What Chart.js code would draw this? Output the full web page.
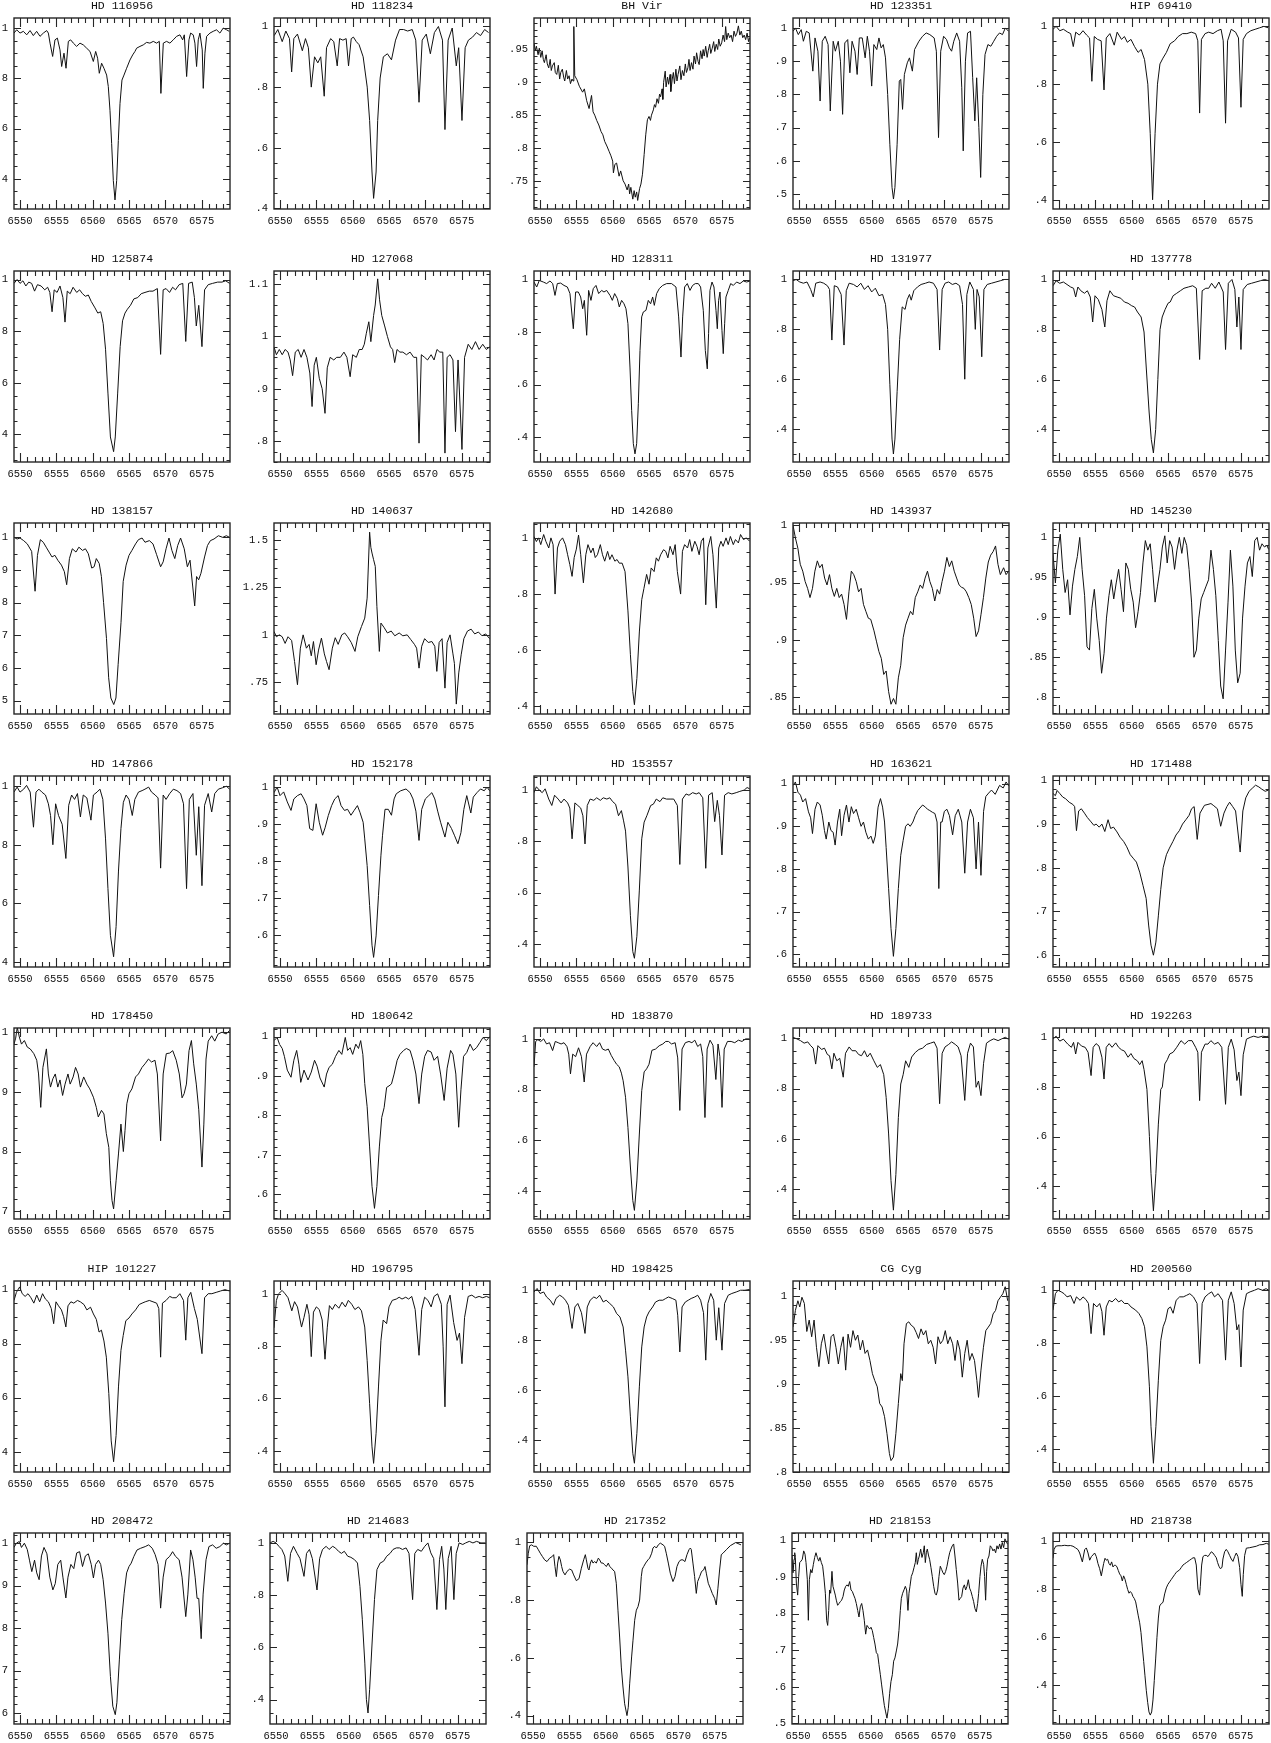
<!DOCTYPE html>
<html>
<head>
<meta charset="utf-8">
<title>H-alpha spectra</title>
<script src="https://cdn.jsdelivr.net/npm/chart.js@4.4.1/dist/chart.umd.min.js"></script>
<style>
  html, body { margin: 0; padding: 0; background: #fff; }
  #page { position: relative; width: 1271px; height: 1743px; overflow: hidden; background: #fff; }
  .cell { position: absolute; }
</style>
</head>
<body>
<div id="page"></div>
<script>
// ─────────────────────────────────────────────
//  Panel titles (reading order, 5 per row)
// ─────────────────────────────────────────────
const STARS = [
  "HD 116956", "HD 118234", "BH Vir", "HD 123351", "HIP 69410",
  "HD 125874", "HD 127068", "HD 128311", "HD 131977", "HD 137778",
  "HD 138157", "HD 140637", "HD 142680", "HD 143937", "HD 145230",
  "HD 147866", "HD 152178", "HD 153557", "HD 163621", "HD 171488",
  "HD 178450", "HD 180642", "HD 183870", "HD 189733", "HD 192263",
  "HIP 101227", "HD 196795", "HD 198425", "CG Cyg", "HD 200560",
  "HD 208472", "HD 214683", "HD 217352", "HD 218153", "HD 218738",
];

// wavelength axis (Angstrom)
const X_RANGE = [6549.17, 6578.9];
const X_TICKS = [6550, 6555, 6560, 6565, 6570, 6575];

// flux axis per panel: limits, labelled step, minor step
const Y_MIN   = [0.28, 0.398, 0.707, 0.455, 0.368,  0.293, 0.76, 0.305, 0.268, 0.27,
                 0.459, 0.584, 0.373, 0.8355, 0.779, 0.382, 0.514, 0.31, 0.57, 0.573,
                 0.687, 0.537, 0.29, 0.283, 0.267,  0.325, 0.319, 0.272, 0.80, 0.313,
                 0.574, 0.307, 0.371, 0.498, 0.24];
const Y_MAX   = [1.04, 1.028, 0.998, 1.03, 1.029,  1.033, 1.125, 1.033, 1.034, 1.034,
                 1.044, 1.588, 1.053, 1.002, 1.018, 1.035, 1.03, 1.055, 1.018, 1.01,
                 1.007, 1.022, 1.043, 1.04, 1.038,  1.032, 1.049, 1.037, 1.0175, 1.035,
                 1.024, 1.038, 1.032, 1.021, 1.033];
const Y_STEP  = [0.2, 0.2, 0.05, 0.1, 0.2,  0.2, 0.1, 0.2, 0.2, 0.2,
                 0.1, 0.25, 0.2, 0.05, 0.05,  0.2, 0.1, 0.2, 0.1, 0.1,
                 0.1, 0.1, 0.2, 0.2, 0.2,  0.2, 0.2, 0.2, 0.05, 0.2,
                 0.1, 0.2, 0.2, 0.1, 0.2];
const Y_MINOR = [0.05, 0.05, 0.01, 0.05, 0.05,  0.05, 0.02, 0.05, 0.05, 0.05,
                 0.05, 0.05, 0.05, 0.01, 0.01,  0.05, 0.02, 0.05, 0.02, 0.02,
                 0.02, 0.02, 0.05, 0.05, 0.05,  0.05, 0.05, 0.05, 0.01, 0.05,
                 0.02, 0.05, 0.05, 0.02, 0.05];

// ─────────────────────────────────────────────
//  Spectra: [wavelength, normalised flux]
// ─────────────────────────────────────────────
const S_HD116956 = [[6549.17,.98],[6549.54,.993],[6550.0,.98],[6550.46,.987],[6550.92,.973],[6551.38,.99],[6551.83,.97],[6552.29,.987],[6552.75,.967],[6553.21,.98],[6553.67,.99],[6553.9,.98],[6554.13,.94],[6554.49,.887],[6554.81,.953],[6555.14,.96],[6555.5,.913],[6555.73,.847],[6556.05,.9],[6556.33,.84],[6556.65,.947],[6556.97,.953],[6557.34,.94],[6557.79,.927],[6558.25,.94],[6558.71,.933],[6559.17,.92],[6559.63,.907],[6560.09,.867],[6560.41,.907],[6560.68,.88],[6560.91,.82],[6561.23,.86],[6561.55,.84],[6561.92,.813],[6562.15,.767],[6562.38,.673],[6562.61,.54],[6562.84,.393],[6563.07,.316],[6563.3,.393],[6563.53,.553],[6563.76,.70],[6564.03,.793],[6564.31,.813],[6564.67,.84],[6565.13,.873],[6565.5,.893],[6565.82,.907],[6566.05,.92],[6566.51,.927],[6566.96,.933],[6567.42,.943],[6567.88,.94],[6568.34,.947],[6568.8,.94],[6569.17,.947],[6569.39,.74],[6569.72,.94],[6570.17,.947],[6570.63,.94],[6571.09,.953],[6571.55,.967],[6572.01,.973],[6572.38,.953],[6572.61,.973],[6572.93,.807],[6573.25,.953],[6573.48,.98],[6573.84,.973],[6574.07,.94],[6574.3,.847],[6574.53,.953],[6574.76,.98],[6575.08,.913],[6575.22,.76],[6575.45,.9],[6575.68,.967],[6576.14,.98],[6576.59,.987],[6577.05,.993],[6577.51,.98],[6577.97,1.0],[6578.43,.993],[6578.79,.987]];

const S_HD118234 = [[6549.2,.97],[6549.7,.99],[6550.3,.95],[6550.8,.985],[6551.3,.96],[6551.6,.85],[6551.9,.96],[6552.4,.975],[6553.07,.92],[6553.5,.96],[6553.9,.93],[6554.3,.80],[6554.75,.90],[6555.2,.88],[6555.6,.90],[6556.08,.77],[6556.4,.93],[6556.97,.96],[6557.4,.95],[6557.87,.87],[6558.2,.96],[6558.65,.955],[6559.1,.96],[6559.43,.87],[6559.8,.96],[6560.1,.965],[6560.5,.95],[6560.88,.94],[6561.44,.90],[6562.0,.80],[6562.33,.69],[6562.66,.52],[6562.88,.433],[6563.22,.52],[6563.44,.69],[6563.78,.83],[6564.22,.90],[6564.78,.91],[6565.34,.89],[6565.9,.955],[6566.45,.99],[6567.0,.99],[6567.57,.985],[6568.2,.99],[6568.68,.955],[6569.13,.75],[6569.57,.955],[6570.13,.975],[6570.69,.91],[6571.25,.98],[6571.8,1.0],[6572.36,.955],[6572.7,.66],[6573.14,.955],[6573.7,.995],[6574.26,.87],[6574.59,.93],[6575.04,.69],[6575.48,.93],[6575.93,.955],[6576.5,.965],[6577.04,.98],[6577.6,.97],[6578.16,.99],[6578.7,.98]];

const S_BHVir = [[6549.17,.96],[6549.35,.948],[6549.5,.955],[6549.73,.942],[6549.9,.952],[6550.1,.938],[6550.29,.948],[6550.45,.935],[6550.6,.93],[6550.84,.942],[6551.0,.928],[6551.2,.922],[6551.4,.935],[6551.55,.918],[6551.7,.925],[6551.96,.93],[6552.1,.915],[6552.3,.912],[6552.52,.926],[6552.7,.905],[6552.85,.915],[6553.07,.92],[6553.25,.908],[6553.4,.902],[6553.63,.918],[6553.8,.905],[6554.0,.91],[6554.19,.898],[6554.4,.905],[6554.55,.902],[6554.65,.985],[6554.78,.91],[6555.08,.904],[6555.41,.894],[6555.86,.885],[6556.1,.89],[6556.42,.872],[6556.75,.86],[6557.09,.88],[6557.3,.855],[6557.53,.85],[6557.8,.842],[6558.09,.835],[6558.4,.825],[6558.65,.82],[6558.9,.81],[6559.2,.803],[6559.5,.795],[6559.76,.788],[6560.0,.78],[6560.1,.762],[6560.3,.775],[6560.54,.777],[6560.88,.757],[6561.1,.765],[6561.44,.75],[6561.7,.745],[6561.99,.736],[6562.2,.745],[6562.33,.73],[6562.5,.74],[6562.77,.722],[6562.95,.735],[6563.11,.725],[6563.3,.733],[6563.44,.72],[6563.7,.738],[6563.89,.745],[6564.1,.76],[6564.33,.79],[6564.55,.82],[6564.78,.843],[6565.0,.848],[6565.2,.842],[6565.34,.85],[6565.6,.858],[6565.75,.866],[6565.9,.862],[6566.1,.875],[6566.3,.868],[6566.45,.882],[6566.6,.878],[6566.8,.89],[6566.9,.874],[6567.01,.9],[6567.23,.917],[6567.35,.893],[6567.55,.908],[6567.7,.897],[6567.9,.912],[6568.0,.886],[6568.2,.905],[6568.35,.915],[6568.5,.898],[6568.7,.92],[6568.85,.902],[6569.0,.912],[6569.24,.925],[6569.4,.904],[6569.6,.918],[6569.8,.91],[6570.0,.928],[6570.15,.915],[6570.35,.922],[6570.5,.935],[6570.65,.918],[6570.85,.93],[6571.05,.92],[6571.2,.94],[6571.4,.928],[6571.55,.945],[6571.75,.932],[6571.9,.927],[6572.1,.948],[6572.3,.936],[6572.45,.95],[6572.6,.94],[6572.8,.955],[6573.0,.938],[6573.15,.948],[6573.35,.958],[6573.5,.944],[6573.7,.952],[6573.9,.962],[6574.05,.947],[6574.25,.958],[6574.45,.95],[6574.6,.966],[6574.8,.955],[6575.0,.96],[6575.2,.972],[6575.4,.962],[6575.55,.985],[6575.7,.965],[6575.9,.975],[6576.1,.968],[6576.3,.972],[6576.5,.962],[6576.7,.978],[6576.9,.97],[6577.1,.975],[6577.3,.986],[6577.5,.972],[6577.7,.978],[6577.9,.968],[6578.1,.972],[6578.3,.965],[6578.5,.975],[6578.7,.962],[6578.85,.968]];

const S_HD123351 = [[6549.17,.99],[6549.5,1.0],[6549.9,.98],[6550.3,.995],[6550.6,.96],[6551.0,.99],[6551.4,.985],[6551.9,.87],[6552.2,.97],[6552.6,.93],[6552.9,.78],[6553.2,.96],[6553.6,.975],[6554.0,.95],[6554.3,.75],[6554.7,.96],[6555.0,.93],[6555.4,.96],[6555.7,.90],[6556.0,.74],[6556.3,.955],[6556.7,.965],[6557.0,.865],[6557.3,.96],[6557.7,.93],[6558.0,.86],[6558.3,.97],[6558.7,.97],[6559.1,.91],[6559.4,.975],[6559.7,.93],[6560.0,.825],[6560.3,.95],[6560.7,.935],[6561.0,.97],[6561.3,.94],[6561.6,.95],[6561.9,.91],[6562.2,.80],[6562.5,.65],[6562.8,.52],[6563.0,.485],[6563.2,.52],[6563.5,.65],[6563.8,.84],[6564.0,.845],[6564.25,.755],[6564.5,.86],[6564.9,.895],[6565.2,.91],[6565.6,.87],[6565.9,.935],[6566.5,.96],[6567.0,.975],[6567.5,.985],[6568.0,.98],[6568.6,.97],[6568.9,.93],[6569.2,.67],[6569.5,.93],[6569.9,.975],[6570.3,.965],[6570.7,.94],[6571.0,.93],[6571.3,.96],[6571.7,.985],[6572.1,.96],[6572.4,.82],[6572.6,.63],[6572.9,.90],[6573.2,.985],[6573.6,.99],[6573.9,.85],[6574.2,.72],[6574.45,.85],[6574.75,.70],[6575.0,.55],[6575.3,.80],[6575.6,.92],[6576.0,.95],[6576.4,.945],[6576.8,.96],[6577.2,.975],[6577.6,.985],[6578.0,.98],[6578.4,1.0],[6578.85,.99]];

const S_HIP69410 = [[6549.17,.99],[6549.6,1.0],[6550.1,.985],[6550.6,.99],[6551.2,.98],[6551.6,.975],[6551.96,.93],[6552.3,.98],[6552.8,.97],[6553.3,.985],[6553.8,.97],[6554.2,.96],[6554.52,.81],[6554.85,.965],[6555.3,.955],[6555.8,.95],[6556.19,.78],[6556.5,.96],[6557.0,.975],[6557.6,.935],[6558.0,.98],[6558.6,.955],[6559.0,.965],[6559.4,.945],[6559.9,.955],[6560.4,.93],[6560.88,.91],[6561.3,.92],[6561.77,.885],[6562.22,.80],[6562.55,.63],[6562.88,.40],[6563.22,.63],[6563.55,.80],[6563.89,.87],[6564.3,.89],[6564.78,.91],[6565.3,.94],[6565.9,.95],[6566.4,.965],[6567.0,.975],[6567.6,.975],[6568.2,.98],[6568.8,.975],[6569.1,.95],[6569.35,.70],[6569.6,.955],[6570.1,.975],[6570.6,.98],[6571.2,.975],[6571.8,.985],[6572.3,.99],[6572.6,.95],[6572.92,.665],[6573.2,.95],[6573.7,.99],[6574.3,.98],[6574.7,.96],[6575.04,.72],[6575.35,.955],[6575.8,.975],[6576.4,.985],[6577.0,.99],[6577.6,.995],[6578.2,1.0],[6578.8,.995]];

const S_HD125874 = [[6549.17,.985],[6549.6,1.0],[6550.0,.985],[6550.4,.995],[6550.8,.975],[6551.2,.99],[6551.6,.985],[6552.0,.955],[6552.4,.98],[6552.9,.975],[6553.4,.96],[6553.8,.97],[6554.1,.95],[6554.41,.875],[6554.7,.96],[6555.1,.95],[6555.5,.975],[6555.9,.93],[6556.19,.835],[6556.5,.955],[6556.9,.945],[6557.3,.97],[6557.8,.95],[6558.2,.96],[6558.6,.945],[6559.0,.935],[6559.4,.94],[6559.8,.915],[6560.32,.89],[6560.7,.87],[6561.1,.875],[6561.44,.83],[6561.77,.73],[6562.1,.56],[6562.44,.39],[6562.88,.333],[6563.11,.39],[6563.44,.56],[6563.78,.74],[6564.11,.84],[6564.45,.87],[6564.78,.885],[6565.2,.9],[6565.67,.925],[6566.2,.93],[6566.68,.945],[6567.2,.95],[6567.79,.955],[6568.3,.955],[6568.9,.965],[6569.35,.71],[6569.7,.96],[6570.1,.965],[6570.58,.95],[6571.0,.97],[6571.4,.96],[6571.9,.98],[6572.4,.985],[6572.81,.76],[6573.2,.985],[6573.7,.99],[6574.0,.93],[6574.26,.82],[6574.6,.9],[6575.04,.74],[6575.4,.96],[6575.9,.98],[6576.5,.985],[6577.2,.99],[6577.8,.99],[6578.3,.995],[6578.85,.985]];

const S_HD127068 = [[6549.17,.98],[6549.5,.965],[6549.9,.975],[6550.3,.965],[6550.7,.975],[6551.1,.97],[6551.4,.955],[6551.73,.925],[6552.1,.97],[6552.5,.975],[6552.9,.96],[6553.3,.975],[6553.7,.96],[6554.1,.93],[6554.41,.866],[6554.7,.945],[6555.0,.96],[6555.4,.92],[6555.8,.90],[6556.19,.853],[6556.5,.94],[6556.9,.96],[6557.4,.955],[6557.8,.96],[6558.3,.96],[6558.8,.97],[6559.2,.96],[6559.65,.923],[6560.0,.965],[6560.5,.96],[6560.9,.975],[6561.3,.975],[6561.6,.985],[6561.88,1.006],[6562.22,1.028],[6562.5,.99],[6562.88,1.04],[6563.1,1.06],[6563.44,1.11],[6563.7,1.07],[6564.0,1.04],[6564.4,1.02],[6564.78,1.0],[6565.2,.98],[6565.5,.975],[6565.78,.95],[6566.1,.975],[6566.5,.97],[6566.9,.97],[6567.4,.965],[6567.9,.97],[6568.4,.96],[6568.8,.96],[6569.13,.796],[6569.45,.965],[6569.9,.96],[6570.3,.955],[6570.8,.965],[6571.2,.955],[6571.6,.975],[6572.0,.97],[6572.4,.97],[6572.7,.777],[6573.0,.96],[6573.4,.965],[6573.8,.955],[6574.15,.818],[6574.5,.955],[6575.04,.784],[6575.4,.96],[6575.9,.985],[6576.4,.975],[6576.9,.99],[6577.4,.975],[6577.9,.985],[6578.4,.975],[6578.85,.98]];

const S_HD128311 = [[6549.17,.991],[6549.54,.972],[6549.9,.997],[6550.45,.991],[6550.91,.985],[6551.37,.995],[6551.74,.985],[6552.06,.94],[6552.38,.985],[6552.84,.987],[6553.3,.978],[6553.76,.972],[6554.12,.947],[6554.58,.813],[6554.9,.953],[6555.27,.953],[6555.59,.934],[6555.87,.889],[6556.1,.921],[6556.42,.788],[6556.69,.959],[6557.01,.921],[6557.33,.966],[6557.7,.978],[6558.07,.947],[6558.48,.959],[6558.8,.953],[6559.17,.959],[6559.63,.94],[6559.95,.921],[6560.27,.947],[6560.64,.928],[6560.91,.896],[6561.23,.921],[6561.56,.908],[6561.83,.889],[6562.1,.832],[6562.38,.667],[6562.61,.502],[6562.84,.375],[6563.07,.336],[6563.3,.375],[6563.53,.527],[6563.76,.73],[6563.99,.858],[6564.22,.877],[6564.58,.883],[6564.9,.921],[6565.22,.908],[6565.5,.934],[6565.73,.902],[6566.05,.947],[6566.42,.966],[6566.88,.978],[6567.43,.985],[6568.11,.985],[6568.71,.972],[6569.08,.858],[6569.4,.705],[6569.63,.858],[6569.9,.972],[6570.27,.985],[6570.64,.959],[6571.0,.978],[6571.37,.985],[6571.78,.985],[6572.1,.972],[6572.47,.883],[6572.75,.73],[6573.02,.66],[6573.2,.794],[6573.39,.959],[6573.67,.991],[6573.94,.972],[6574.22,.883],[6574.4,.813],[6574.58,.921],[6574.77,.953],[6575.04,.807],[6575.22,.718],[6575.41,.832],[6575.59,.934],[6575.91,.959],[6576.24,.985],[6576.6,.978],[6577.06,.991],[6577.52,.985],[6577.98,.995],[6578.44,.991],[6578.9,.995]];

const S_HD131977 = [[6549.17,.995],[6549.6,1.0],[6550.1,.99],[6550.6,.985],[6551.1,.99],[6551.6,.96],[6551.96,.93],[6552.3,.985],[6552.9,.99],[6553.4,.985],[6553.9,.975],[6554.2,.96],[6554.52,.757],[6554.85,.975],[6555.3,.97],[6555.8,.94],[6556.19,.737],[6556.5,.955],[6556.9,.985],[6557.5,.98],[6558.0,.97],[6558.5,.985],[6559.0,.96],[6559.5,.975],[6560.0,.95],[6560.5,.965],[6561.0,.935],[6561.5,.94],[6561.9,.90],[6562.2,.80],[6562.5,.58],[6562.8,.36],[6562.99,.30],[6563.2,.36],[6563.5,.55],[6563.85,.76],[6564.2,.89],[6564.6,.88],[6564.9,.92],[6565.2,.94],[6565.44,.917],[6565.8,.955],[6566.3,.97],[6566.8,.98],[6567.4,.985],[6567.9,.99],[6568.5,.985],[6569.0,.96],[6569.35,.717],[6569.7,.96],[6570.1,.985],[6570.6,.99],[6571.1,.98],[6571.6,.985],[6572.1,.975],[6572.5,.90],[6572.81,.60],[6573.1,.94],[6573.5,.99],[6574.0,.96],[6574.26,.80],[6574.5,.96],[6574.8,.93],[6575.15,.69],[6575.45,.96],[6575.9,.98],[6576.5,.985],[6577.1,.99],[6577.7,.995],[6578.3,1.0],[6578.85,1.0]];

const S_HD137778 = [[6549.17,.975],[6549.6,.995],[6550.1,.985],[6550.6,.99],[6551.1,.98],[6551.6,.97],[6552.0,.965],[6552.29,.93],[6552.6,.97],[6553.0,.955],[6553.5,.945],[6553.9,.955],[6554.3,.93],[6554.63,.83],[6554.95,.935],[6555.4,.92],[6555.9,.88],[6556.3,.81],[6556.6,.915],[6557.0,.955],[6557.5,.935],[6558.0,.93],[6558.5,.925],[6559.0,.91],[6559.5,.905],[6560.0,.895],[6560.4,.89],[6560.8,.87],[6561.3,.85],[6561.7,.79],[6562.0,.65],[6562.4,.47],[6562.7,.36],[6562.99,.306],[6563.3,.40],[6563.6,.60],[6563.9,.80],[6564.2,.85],[6564.6,.88],[6565.0,.905],[6565.3,.91],[6565.7,.935],[6566.2,.945],[6566.7,.955],[6567.2,.965],[6567.8,.97],[6568.4,.975],[6568.9,.965],[6569.35,.68],[6569.7,.955],[6570.2,.965],[6570.6,.965],[6571.0,.985],[6571.5,.965],[6572.0,.99],[6572.6,.95],[6572.92,.72],[6573.3,.985],[6573.8,1.0],[6574.2,.96],[6574.48,.81],[6574.75,.93],[6575.04,.72],[6575.35,.96],[6575.9,.98],[6576.5,.985],[6577.1,.99],[6577.7,.995],[6578.3,1.0],[6578.85,.995]];

const S_HD138157 = [[6549.17,1.0],[6549.6,.995],[6550.0,.998],[6550.5,.99],[6551.0,.98],[6551.6,.957],[6552.07,.835],[6552.4,.945],[6552.8,.993],[6553.2,.985],[6553.6,.97],[6554.0,.955],[6554.4,.94],[6554.8,.945],[6555.2,.93],[6555.7,.915],[6556.1,.895],[6556.42,.855],[6556.8,.935],[6557.2,.965],[6557.7,.955],[6558.1,.97],[6558.6,.96],[6559.0,.965],[6559.4,.95],[6559.87,.906],[6560.2,.91],[6560.5,.935],[6560.9,.92],[6561.2,.88],[6561.5,.80],[6561.9,.69],[6562.2,.57],[6562.5,.508],[6562.9,.488],[6563.2,.508],[6563.5,.61],[6563.9,.74],[6564.2,.865],[6564.6,.915],[6565.0,.945],[6565.4,.96],[6565.9,.98],[6566.3,.993],[6566.8,.998],[6567.2,.985],[6567.8,.99],[6568.3,.98],[6568.8,.947],[6569.35,.91],[6569.7,.925],[6570.1,.965],[6570.5,.998],[6570.9,.96],[6571.3,.935],[6571.7,.975],[6572.1,.998],[6572.6,.965],[6573.03,.91],[6573.4,.93],[6574.04,.79],[6574.3,.88],[6574.59,.87],[6574.9,.89],[6575.4,.94],[6575.8,.975],[6576.2,.99],[6576.7,.995],[6577.3,1.005],[6577.9,1.0],[6578.4,1.005],[6578.85,1.0]];

const S_HD140637 = [[6549.17,1.018],[6549.5,.99],[6549.9,1.0],[6550.3,.99],[6550.7,.955],[6551.1,.99],[6551.6,.97],[6552.0,.86],[6552.4,.738],[6552.8,.93],[6553.18,1.0],[6553.63,.93],[6554.0,.95],[6554.3,.89],[6554.6,.965],[6554.97,.843],[6555.3,.92],[6555.7,.983],[6556.1,.90],[6556.4,.86],[6556.75,.817],[6557.2,.93],[6557.6,.985],[6558.0,.95],[6558.5,1.0],[6558.9,1.01],[6559.3,.99],[6559.8,.96],[6560.32,.913],[6560.7,.99],[6561.21,1.044],[6561.66,1.088],[6561.99,1.193],[6562.33,1.54],[6562.5,1.46],[6562.66,1.43],[6562.88,1.395],[6563.11,1.36],[6563.33,1.15],[6563.67,.913],[6563.89,1.062],[6564.3,1.04],[6564.78,1.01],[6565.3,1.02],[6565.8,.995],[6566.4,1.01],[6566.9,.995],[6567.5,1.0],[6568.0,.975],[6568.5,.95],[6568.8,.93],[6569.13,.825],[6569.5,.94],[6569.9,.98],[6570.4,.96],[6570.9,.965],[6571.3,.94],[6571.58,.808],[6571.9,.96],[6572.3,.98],[6572.7,.72],[6573.0,.96],[6573.4,1.0],[6573.8,.90],[6574.0,.85],[6574.26,.636],[6574.6,.80],[6574.93,.895],[6575.3,.98],[6575.8,1.02],[6576.3,1.03],[6576.8,1.005],[6577.3,1.015],[6577.8,.995],[6578.3,1.005],[6578.85,.98]];

const S_HD142680 = [[6549.17,1.005],[6549.5,.987],[6549.8,1.0],[6550.1,.976],[6550.5,1.012],[6550.8,.988],[6551.2,.964],[6551.5,1.0],[6551.8,.976],[6552.07,.80],[6552.4,.964],[6552.7,.988],[6553.1,1.0],[6553.5,.976],[6553.8,.94],[6554.1,.905],[6554.41,.863],[6554.7,.93],[6555.0,.96],[6555.3,1.01],[6555.6,.94],[6555.97,.84],[6556.3,.94],[6556.6,.976],[6557.0,.947],[6557.3,.964],[6557.6,.93],[6557.9,.94],[6558.3,.976],[6558.6,.94],[6558.9,.917],[6559.3,.952],[6559.6,.923],[6559.9,.94],[6560.3,.917],[6560.6,.923],[6560.9,.91],[6561.3,.91],[6561.7,.88],[6562.1,.74],[6562.44,.584],[6562.77,.453],[6562.99,.406],[6563.33,.50],[6563.67,.665],[6564.0,.78],[6564.3,.82],[6564.67,.87],[6565.0,.835],[6565.3,.893],[6565.7,.88],[6566.0,.929],[6566.3,.917],[6566.6,.94],[6567.0,.958],[6567.3,.952],[6567.6,.929],[6567.9,.97],[6568.3,.94],[6568.6,.976],[6568.9,.88],[6569.35,.80],[6569.6,.952],[6569.9,.976],[6570.3,.964],[6570.6,.994],[6570.9,.952],[6571.3,.988],[6571.6,.97],[6571.9,.94],[6572.2,.988],[6572.5,1.0],[6572.81,.762],[6573.1,.964],[6573.5,1.005],[6573.8,.94],[6574.26,.75],[6574.6,.964],[6574.9,.988],[6575.2,.97],[6575.6,1.0],[6575.9,.976],[6576.2,1.005],[6576.6,.976],[6576.9,.994],[6577.3,.982],[6577.6,1.012],[6578.0,.994],[6578.4,1.0],[6578.85,.988]];

const S_HD143937 = [[6549.17,1.0],[6549.5,.989],[6549.84,.98],[6550.17,.966],[6550.51,.96],[6550.84,.951],[6551.18,.945],[6551.51,.937],[6551.85,.945],[6552.18,.96],[6552.52,.969],[6552.85,.963],[6553.18,.966],[6553.52,.954],[6553.85,.948],[6554.19,.957],[6554.52,.945],[6554.86,.938],[6555.19,.945],[6555.53,.937],[6555.86,.94],[6556.2,.931],[6556.53,.918],[6556.87,.942],[6557.2,.96],[6557.53,.957],[6557.87,.951],[6558.2,.942],[6558.54,.945],[6558.87,.931],[6559.2,.925],[6559.54,.919],[6559.87,.918],[6560.32,.908],[6560.65,.899],[6560.99,.89],[6561.32,.884],[6561.66,.87],[6561.99,.873],[6562.33,.855],[6562.66,.844],[6563.0,.849],[6563.33,.844],[6563.67,.867],[6564.0,.878],[6564.33,.902],[6564.67,.913],[6565.0,.919],[6565.34,.925],[6565.67,.922],[6566.0,.937],[6566.34,.942],[6566.68,.948],[6567.01,.945],[6567.35,.954],[6567.68,.96],[6568.01,.951],[6568.35,.945],[6568.68,.934],[6569.02,.944],[6569.35,.94],[6569.69,.951],[6570.02,.96],[6570.35,.972],[6570.69,.964],[6571.02,.969],[6571.36,.96],[6571.69,.954],[6572.03,.948],[6572.36,.946],[6572.7,.945],[6573.03,.942],[6573.37,.937],[6573.7,.931],[6574.04,.919],[6574.37,.903],[6574.71,.908],[6575.04,.922],[6575.38,.937],[6575.71,.954],[6576.05,.968],[6576.38,.974],[6576.71,.977],[6577.05,.982],[6577.38,.966],[6577.71,.957],[6578.16,.963],[6578.5,.957],[6578.85,.96]];

const S_HD145230 = [[6549.17,.98],[6549.5,.943],[6549.84,.984],[6550.17,1.004],[6550.51,.96],[6550.84,.931],[6551.18,.947],[6551.51,.903],[6551.85,.939],[6552.18,.96],[6552.52,.976],[6552.85,1.0],[6553.18,.96],[6553.52,.927],[6553.85,.863],[6554.19,.859],[6554.52,.911],[6554.86,.935],[6555.19,.899],[6555.53,.871],[6555.86,.83],[6556.2,.855],[6556.53,.899],[6556.87,.927],[6557.2,.947],[6557.53,.923],[6557.87,.943],[6558.2,.96],[6558.54,.935],[6558.87,.907],[6559.2,.968],[6559.54,.96],[6559.87,.935],[6560.21,.919],[6560.54,.887],[6560.88,.907],[6561.21,.931],[6561.55,.968],[6561.88,.996],[6562.22,.984],[6562.55,.992],[6562.88,.96],[6563.22,.919],[6563.55,.939],[6563.89,.96],[6564.22,.988],[6564.56,1.002],[6564.89,.968],[6565.23,.996],[6565.56,.988],[6565.9,.96],[6566.23,.984],[6566.56,1.0],[6566.9,.98],[6567.23,1.0],[6567.57,.99],[6567.9,.96],[6568.24,.919],[6568.57,.85],[6568.91,.859],[6569.24,.899],[6569.57,.923],[6569.91,.931],[6570.24,.939],[6570.58,.947],[6570.91,.984],[6571.25,.96],[6571.58,.927],[6571.92,.871],[6572.25,.814],[6572.59,.798],[6572.92,.859],[6573.26,.919],[6573.59,.984],[6573.93,.939],[6574.26,.859],[6574.59,.818],[6574.93,.83],[6575.26,.899],[6575.6,.939],[6575.93,.968],[6576.27,.976],[6576.6,.951],[6576.94,.996],[6577.27,1.0],[6577.6,.984],[6577.94,.992],[6578.27,.988],[6578.61,.99],[6578.85,.985]];

const S_HD147866 = [[6549.17,.98],[6549.6,.997],[6550.0,.98],[6550.5,.99],[6550.9,1.003],[6551.4,.98],[6551.85,.86],[6552.2,.98],[6552.6,.99],[6553.0,.98],[6553.5,.97],[6553.9,.94],[6554.2,.90],[6554.52,.80],[6554.9,.94],[6555.3,.90],[6555.8,.87],[6556.31,.753],[6556.7,.935],[6557.1,.97],[6557.5,.955],[6557.9,.975],[6558.31,.895],[6558.7,.97],[6559.2,.96],[6559.76,.884],[6560.1,.97],[6560.6,.98],[6561.0,.99],[6561.4,.955],[6561.77,.82],[6562.1,.65],[6562.44,.49],[6562.88,.417],[6563.22,.52],[6563.55,.71],[6563.89,.855],[6564.22,.945],[6564.6,.97],[6565.0,.955],[6565.45,.90],[6565.8,.955],[6566.3,.98],[6566.8,.985],[6567.2,.99],[6567.7,.997],[6568.1,.98],[6568.6,.97],[6569.0,.96],[6569.35,.72],[6569.7,.97],[6570.1,.955],[6570.6,.975],[6571.1,.99],[6571.6,.985],[6572.1,.975],[6572.5,.94],[6572.92,.65],[6573.3,.955],[6573.8,.975],[6574.26,.764],[6574.6,.93],[6575.04,.66],[6575.4,.935],[6575.9,.975],[6576.38,.912],[6576.8,.975],[6577.3,.99],[6577.9,.995],[6578.4,1.0],[6578.85,.99]];

const S_HD152178 = [[6549.17,.985],[6549.6,1.0],[6550.0,.977],[6550.5,.987],[6551.0,.96],[6551.51,.937],[6551.9,.968],[6552.4,.977],[6552.9,.982],[6553.3,.968],[6553.7,.95],[6554.08,.888],[6554.52,.883],[6554.97,.955],[6555.4,.905],[6555.86,.87],[6556.2,.89],[6556.64,.923],[6557.1,.95],[6557.53,.968],[6558.0,.977],[6558.4,.95],[6558.87,.937],[6559.3,.94],[6559.76,.924],[6560.2,.937],[6560.65,.95],[6561.0,.932],[6561.44,.905],[6561.66,.86],[6561.99,.788],[6562.33,.68],[6562.66,.573],[6562.88,.54],[6563.22,.598],[6563.55,.707],[6563.89,.816],[6564.11,.87],[6564.45,.94],[6564.9,.94],[6565.34,.924],[6565.7,.968],[6566.0,.982],[6566.6,.99],[6567.34,.995],[6567.9,.985],[6568.3,.968],[6568.7,.935],[6569.13,.856],[6569.5,.94],[6570.0,.968],[6570.47,.977],[6570.9,.985],[6571.3,.968],[6571.7,.935],[6572.1,.905],[6572.7,.865],[6573.1,.905],[6573.6,.888],[6574.0,.87],[6574.48,.847],[6574.9,.877],[6575.3,.94],[6575.7,.977],[6576.26,.93],[6576.6,.973],[6577.1,.985],[6577.6,.995],[6578.1,.99],[6578.5,1.0],[6578.85,.99]];

const S_HD153557 = [[6549.17,.99],[6549.5,1.013],[6549.9,1.0],[6550.3,.99],[6550.7,1.005],[6551.2,.965],[6551.62,.94],[6552.0,.98],[6552.5,.965],[6552.9,.95],[6553.3,.965],[6553.8,.95],[6554.1,.93],[6554.41,.81],[6554.8,.95],[6555.2,.94],[6555.6,.93],[6555.9,.90],[6556.19,.79],[6556.5,.94],[6556.9,.965],[6557.4,.96],[6557.8,.97],[6558.3,.96],[6558.7,.97],[6559.2,.965],[6559.6,.97],[6560.0,.955],[6560.4,.945],[6560.8,.90],[6561.2,.92],[6561.5,.88],[6561.77,.84],[6562.1,.70],[6562.44,.51],[6562.77,.37],[6562.99,.344],[6563.33,.43],[6563.67,.61],[6564.0,.81],[6564.33,.875],[6564.7,.90],[6565.23,.94],[6565.6,.945],[6566.0,.965],[6566.5,.955],[6566.9,.97],[6567.4,.965],[6567.9,.965],[6568.4,.965],[6568.9,.94],[6569.24,.71],[6569.6,.965],[6570.1,.985],[6570.5,.98],[6571.0,.99],[6571.5,.985],[6571.9,.99],[6572.4,.97],[6572.81,.695],[6573.2,.98],[6573.7,.99],[6574.04,.877],[6574.4,.96],[6574.7,.90],[6575.04,.747],[6575.4,.98],[6575.9,.99],[6576.4,.985],[6577.0,.99],[6577.5,.995],[6578.1,1.0],[6578.5,1.01],[6578.85,1.005]];

const S_HD163621 = [[6549.17,.996],[6549.5,1.004],[6549.85,.98],[6550.2,.973],[6550.51,.957],[6550.9,.965],[6551.3,.934],[6551.6,.92],[6551.85,.883],[6552.2,.94],[6552.52,.957],[6552.9,.95],[6553.2,.926],[6553.5,.89],[6553.74,.87],[6554.1,.91],[6554.4,.89],[6554.7,.886],[6554.97,.856],[6555.3,.91],[6555.6,.94],[6555.86,.878],[6556.2,.926],[6556.53,.95],[6556.87,.91],[6557.2,.946],[6557.5,.93],[6557.87,.94],[6558.2,.92],[6558.54,.9],[6558.87,.91],[6559.2,.886],[6559.54,.87],[6559.9,.877],[6560.21,.86],[6560.5,.877],[6560.88,.945],[6561.21,.965],[6561.5,.945],[6561.77,.91],[6561.99,.85],[6562.33,.754],[6562.66,.66],[6562.99,.595],[6563.33,.66],[6563.67,.754],[6564.0,.832],[6564.33,.867],[6564.67,.9],[6565.0,.906],[6565.3,.9],[6565.67,.91],[6566.0,.925],[6566.34,.937],[6567.01,.95],[6567.4,.945],[6567.68,.94],[6568.0,.937],[6568.35,.933],[6568.7,.93],[6569.0,.91],[6569.24,.754],[6569.5,.91],[6569.69,.91],[6570.0,.935],[6570.35,.94],[6570.7,.925],[6571.14,.88],[6571.5,.925],[6571.92,.94],[6572.4,.91],[6572.81,.79],[6573.2,.91],[6573.59,.94],[6574.0,.92],[6574.37,.80],[6574.7,.91],[6575.04,.785],[6575.4,.935],[6575.71,.97],[6576.1,.978],[6576.49,.985],[6577.0,.975],[6577.6,.996],[6578.1,.99],[6578.5,1.004],[6578.85,.995]];

const S_HD171488 = [[6549.17,.97],[6549.5,.965],[6549.73,.977],[6550.1,.97],[6550.5,.962],[6550.9,.958],[6551.4,.95],[6551.9,.945],[6552.15,.94],[6552.4,.885],[6552.7,.93],[6553.07,.935],[6553.5,.925],[6553.9,.915],[6554.41,.905],[6554.8,.897],[6555.1,.9],[6555.53,.893],[6555.9,.9],[6556.3,.883],[6556.75,.91],[6557.1,.89],[6557.5,.893],[6557.98,.882],[6558.4,.87],[6558.9,.86],[6559.32,.848],[6559.8,.83],[6560.2,.822],[6560.65,.813],[6561.1,.79],[6561.55,.76],[6561.99,.73],[6562.33,.669],[6562.66,.623],[6562.99,.60],[6563.33,.63],[6563.67,.69],[6564.0,.75],[6564.33,.80],[6564.78,.83],[6565.2,.845],[6565.67,.86],[6566.1,.875],[6566.56,.885],[6567.0,.9],[6567.46,.91],[6567.9,.92],[6568.24,.935],[6568.6,.94],[6569.02,.865],[6569.4,.925],[6570.02,.943],[6570.5,.945],[6570.91,.947],[6571.3,.942],[6571.8,.935],[6572.25,.895],[6572.7,.925],[6573.1,.94],[6573.48,.95],[6573.9,.94],[6574.3,.93],[6574.93,.836],[6575.3,.93],[6575.7,.96],[6576.16,.975],[6576.6,.982],[6577.05,.989],[6577.5,.985],[6577.9,.98],[6578.38,.975],[6578.85,.978]];

const S_HD178450 = [[6549.17,.98],[6549.4,.99],[6549.62,1.008],[6549.9,.992],[6550.2,.98],[6550.6,.986],[6551.0,.975],[6551.4,.972],[6551.9,.964],[6552.3,.953],[6552.55,.93],[6552.85,.874],[6553.15,.941],[6553.63,.972],[6553.9,.93],[6554.19,.908],[6554.52,.922],[6554.85,.93],[6555.2,.908],[6555.5,.92],[6555.86,.894],[6556.2,.913],[6556.6,.93],[6556.9,.913],[6557.31,.925],[6557.64,.941],[6558.0,.93],[6558.31,.908],[6558.76,.925],[6559.2,.913],[6559.6,.905],[6560.1,.891],[6560.5,.874],[6560.77,.858],[6561.21,.869],[6561.55,.863],[6561.88,.83],[6562.22,.807],[6562.44,.751],[6562.66,.718],[6562.88,.704],[6563.22,.751],[6563.55,.796],[6563.89,.846],[6564.22,.80],[6564.45,.835],[6564.7,.88],[6565.0,.897],[6565.4,.905],[6565.9,.925],[6566.3,.93],[6566.79,.941],[6567.2,.947],[6567.68,.955],[6568.1,.95],[6568.57,.953],[6568.9,.93],[6569.35,.818],[6569.7,.93],[6570.13,.964],[6570.6,.965],[6571.02,.969],[6571.5,.953],[6571.92,.93],[6572.3,.89],[6572.59,.897],[6572.9,.913],[6573.26,.969],[6573.59,.986],[6573.9,.947],[6574.26,.913],[6574.6,.87],[6575.04,.774],[6575.3,.846],[6575.6,.955],[6575.9,.985],[6576.38,.994],[6576.8,.985],[6577.27,.997],[6577.8,1.0],[6578.38,.997],[6578.85,1.003]];

const S_HD180642 = [[6549.17,.99],[6549.6,.998],[6549.95,.98],[6550.3,.97],[6550.6,.95],[6551.0,.915],[6551.51,.897],[6551.9,.94],[6552.29,.965],[6552.6,.93],[6552.85,.884],[6553.3,.915],[6553.85,.89],[6554.3,.91],[6554.75,.94],[6555.1,.925],[6555.5,.895],[6556.08,.872],[6556.4,.905],[6556.75,.922],[6557.2,.93],[6557.64,.95],[6558.1,.965],[6558.5,.955],[6558.98,.998],[6559.3,.965],[6559.65,.972],[6560.0,.955],[6560.43,.981],[6560.8,.97],[6561.1,.99],[6561.4,.955],[6561.66,.881],[6561.99,.822],[6562.33,.72],[6562.66,.62],[6563.0,.564],[6563.33,.62],[6563.67,.72],[6564.0,.795],[6564.33,.82],[6564.67,.871],[6565.0,.875],[6565.34,.88],[6565.7,.905],[6566.12,.94],[6566.5,.955],[6567.01,.965],[6567.4,.97],[6567.9,.965],[6568.3,.94],[6568.7,.905],[6569.13,.83],[6569.5,.905],[6569.91,.95],[6570.3,.965],[6570.8,.961],[6571.2,.94],[6571.69,.95],[6572.1,.905],[6572.59,.838],[6573.0,.92],[6573.48,.965],[6573.8,.955],[6574.2,.905],[6574.59,.77],[6574.9,.865],[6575.26,.95],[6575.7,.96],[6576.16,.981],[6576.6,.965],[6577.05,.972],[6577.5,.985],[6577.94,.998],[6578.4,.99],[6578.85,1.0]];

const S_HD183870 = [[6549.17,.89],[6549.4,.99],[6549.7,.997],[6550.1,.99],[6550.5,1.0],[6550.9,.98],[6551.3,.985],[6551.73,.954],[6552.1,.99],[6552.5,.985],[6552.9,.98],[6553.3,.985],[6553.7,.97],[6553.95,.94],[6554.19,.862],[6554.5,.94],[6554.9,.93],[6555.3,.965],[6555.7,.93],[6556.08,.83],[6556.4,.94],[6556.9,.97],[6557.3,.985],[6557.8,.97],[6558.2,.985],[6558.6,.96],[6559.0,.955],[6559.4,.96],[6559.8,.935],[6560.2,.915],[6560.54,.90],[6560.9,.89],[6561.2,.865],[6561.44,.835],[6561.77,.77],[6562.1,.65],[6562.44,.495],[6562.77,.363],[6562.99,.324],[6563.33,.44],[6563.67,.625],[6564.0,.796],[6564.33,.87],[6564.67,.882],[6565.0,.9],[6565.4,.955],[6565.9,.96],[6566.4,.973],[6566.9,.98],[6567.3,.99],[6567.68,.99],[6568.1,.98],[6568.6,.985],[6568.95,.925],[6569.24,.718],[6569.55,.96],[6570.0,.985],[6570.5,.99],[6570.9,.985],[6571.3,.995],[6571.7,.97],[6572.1,.98],[6572.4,.93],[6572.7,.69],[6573.0,.96],[6573.4,.995],[6573.8,.975],[6574.2,.84],[6574.5,.98],[6574.75,.93],[6575.05,.73],[6575.35,.96],[6575.8,.99],[6576.3,.99],[6576.8,.985],[6577.3,.995],[6577.8,.99],[6578.3,1.0],[6578.85,1.0]];

const S_HD189733 = [[6549.17,1.003],[6549.7,.997],[6550.2,.99],[6550.7,.98],[6551.2,.985],[6551.6,.97],[6551.95,.96],[6552.29,.897],[6552.6,.97],[6553.1,.955],[6553.5,.96],[6553.9,.935],[6554.2,.93],[6554.52,.878],[6554.8,.94],[6555.2,.91],[6555.6,.92],[6556.08,.845],[6556.4,.94],[6556.9,.965],[6557.3,.95],[6557.8,.95],[6558.2,.935],[6558.6,.93],[6559.0,.95],[6559.4,.925],[6559.8,.94],[6560.3,.91],[6560.77,.884],[6561.2,.895],[6561.66,.855],[6561.99,.765],[6562.33,.62],[6562.66,.435],[6562.99,.318],[6563.33,.46],[6563.67,.685],[6564.0,.818],[6564.33,.855],[6564.67,.91],[6565.11,.884],[6565.5,.925],[6566.0,.943],[6566.5,.955],[6567.0,.96],[6567.57,.975],[6568.1,.98],[6568.6,.985],[6569.0,.96],[6569.35,.74],[6569.7,.94],[6570.1,.965],[6570.6,.975],[6571.0,.985],[6571.5,.975],[6571.9,.965],[6572.3,.93],[6572.81,.753],[6573.2,.94],[6573.6,.98],[6574.0,.965],[6574.37,.805],[6574.7,.83],[6575.04,.772],[6575.4,.9],[6575.8,.98],[6576.3,.99],[6576.8,.997],[6577.4,.99],[6577.9,.997],[6578.4,1.003],[6578.85,.995]];

const S_HD192263 = [[6549.17,.993],[6549.6,1.005],[6550.1,.985],[6550.6,.993],[6551.2,.973],[6551.7,.96],[6552.0,.98],[6552.29,.933],[6552.6,.98],[6553.1,.965],[6553.6,.96],[6554.0,.94],[6554.41,.846],[6554.7,.96],[6555.1,.975],[6555.5,.965],[6555.9,.92],[6556.19,.832],[6556.5,.96],[6556.9,.975],[6557.3,.96],[6557.8,.978],[6558.2,.96],[6558.6,.95],[6559.0,.945],[6559.5,.92],[6559.9,.935],[6560.3,.915],[6560.8,.905],[6561.1,.89],[6561.44,.906],[6561.7,.87],[6562.1,.79],[6562.44,.60],[6562.66,.45],[6562.99,.30],[6563.33,.45],[6563.67,.65],[6564.0,.79],[6564.22,.80],[6564.56,.893],[6564.9,.91],[6565.23,.933],[6565.7,.94],[6566.2,.96],[6566.79,.987],[6567.3,.973],[6567.8,.987],[6568.3,.987],[6568.8,.96],[6569.1,.94],[6569.35,.745],[6569.6,.94],[6570.1,.973],[6570.5,.973],[6570.9,.987],[6571.4,.973],[6571.9,.98],[6572.4,.96],[6572.92,.73],[6573.3,.96],[6573.7,.993],[6574.1,.95],[6574.48,.826],[6574.75,.86],[6575.04,.765],[6575.35,.93],[6575.8,.993],[6576.3,1.0],[6576.8,1.005],[6577.4,1.0],[6578.0,1.005],[6578.5,1.003],[6578.85,1.005]];

const S_HIP101227 = [[6549.17,.96],[6549.5,.99],[6549.95,1.01],[6550.3,.985],[6550.7,.975],[6551.1,.985],[6551.5,.97],[6551.9,.95],[6552.3,.98],[6552.7,.955],[6553.1,.985],[6553.5,.965],[6553.9,.955],[6554.3,.93],[6554.63,.874],[6554.95,.955],[6555.3,.94],[6555.7,.925],[6556.0,.90],[6556.31,.862],[6556.6,.94],[6557.0,.955],[6557.4,.95],[6557.9,.96],[6558.3,.955],[6558.8,.945],[6559.2,.925],[6559.7,.935],[6560.1,.91],[6560.5,.89],[6560.88,.843],[6561.2,.85],[6561.55,.81],[6561.88,.75],[6562.22,.615],[6562.55,.44],[6562.88,.363],[6563.22,.46],[6563.55,.64],[6563.89,.775],[6564.2,.83],[6564.56,.885],[6565.0,.895],[6565.4,.91],[6565.9,.925],[6566.4,.945],[6566.8,.95],[6567.23,.955],[6567.8,.96],[6568.3,.955],[6568.8,.95],[6569.1,.93],[6569.35,.75],[6569.6,.95],[6570.1,.96],[6570.6,.975],[6571.0,.97],[6571.5,.97],[6572.0,.985],[6572.5,.96],[6572.81,.813],[6573.1,.97],[6573.5,.99],[6574.0,.93],[6574.4,.89],[6575.04,.763],[6575.4,.97],[6575.9,.985],[6576.4,.985],[6577.0,.99],[6577.6,.995],[6578.2,1.0],[6578.85,.995]];

const S_HD196795 = [[6549.17,.87],[6549.5,.975],[6549.8,1.0],[6550.29,1.013],[6550.7,1.0],[6551.1,.985],[6551.62,.935],[6552.0,.97],[6552.4,.95],[6552.96,.873],[6553.3,.91],[6553.7,.96],[6554.0,.92],[6554.3,.76],[6554.6,.93],[6555.0,.95],[6555.4,.94],[6555.8,.90],[6556.19,.75],[6556.5,.87],[6556.8,.955],[6557.2,.94],[6557.6,.96],[6558.1,.945],[6558.54,.968],[6559.0,.95],[6559.4,.975],[6559.87,.96],[6560.3,.94],[6560.8,.95],[6561.21,.935],[6561.66,.873],[6561.99,.746],[6562.33,.58],[6562.66,.415],[6562.88,.352],[6563.22,.467],[6563.55,.644],[6563.89,.822],[6564.2,.90],[6564.67,.886],[6565.0,.95],[6565.45,.975],[6566.0,.98],[6566.4,.987],[6566.79,.98],[6567.3,.987],[6567.7,.98],[6568.13,.99],[6568.6,.94],[6569.13,.765],[6569.5,.94],[6569.9,.987],[6570.36,.975],[6570.8,.95],[6571.2,.99],[6571.69,1.0],[6572.2,.96],[6572.45,.80],[6572.7,.568],[6573.0,.96],[6573.4,.995],[6573.9,.89],[6574.37,.822],[6574.7,.85],[6575.04,.733],[6575.4,.91],[6575.9,.99],[6576.4,.995],[6576.9,.985],[6577.4,.99],[6577.9,.985],[6578.4,.99],[6578.85,.985]];

const S_HD198425 = [[6549.17,.993],[6549.6,1.007],[6550.0,.987],[6550.5,.993],[6550.9,.973],[6551.4,.96],[6551.85,.94],[6552.2,.967],[6552.7,.98],[6553.1,.973],[6553.5,.96],[6553.9,.94],[6554.41,.847],[6554.8,.933],[6555.2,.947],[6555.7,.91],[6556.19,.827],[6556.5,.933],[6556.9,.96],[6557.4,.973],[6557.8,.967],[6558.2,.98],[6558.7,.953],[6559.1,.96],[6559.6,.947],[6560.1,.933],[6560.54,.907],[6561.0,.893],[6561.44,.853],[6561.77,.76],[6562.1,.653],[6562.44,.493],[6562.77,.347],[6562.99,.307],[6563.33,.427],[6563.67,.613],[6564.0,.773],[6564.33,.853],[6564.67,.893],[6565.0,.913],[6565.5,.933],[6565.9,.953],[6566.4,.96],[6566.9,.96],[6567.3,.967],[6567.68,.973],[6568.2,.967],[6568.7,.96],[6568.95,.90],[6569.24,.753],[6569.55,.933],[6570.0,.953],[6570.4,.96],[6570.8,.967],[6571.3,.973],[6571.7,.98],[6572.1,.96],[6572.5,.91],[6572.81,.72],[6573.1,.947],[6573.5,.987],[6573.9,.96],[6574.26,.80],[6574.6,.93],[6575.04,.76],[6575.4,.947],[6575.9,.98],[6576.4,.987],[6577.0,.993],[6577.6,1.0],[6578.2,1.0],[6578.85,1.003]];

const S_CGCyg = [[6549.17,.965],[6549.5,.984],[6549.84,.995],[6550.1,.988],[6550.4,.999],[6550.73,.992],[6551.07,.96],[6551.4,.973],[6551.74,.954],[6552.07,.973],[6552.4,.942],[6552.74,.92],[6553.07,.946],[6553.41,.957],[6553.74,.939],[6554.08,.923],[6554.41,.954],[6554.75,.957],[6555.08,.942],[6555.41,.923],[6555.75,.942],[6556.08,.954],[6556.42,.916],[6556.75,.957],[6557.09,.942],[6557.42,.961],[6557.76,.95],[6558.09,.956],[6558.43,.939],[6558.76,.95],[6559.09,.935],[6559.43,.939],[6559.76,.927],[6560.1,.912],[6560.43,.904],[6560.77,.897],[6561.1,.878],[6561.44,.874],[6561.77,.863],[6562.1,.844],[6562.44,.821],[6562.66,.813],[6563.0,.817],[6563.33,.844],[6563.67,.878],[6564.0,.912],[6564.22,.904],[6564.45,.946],[6564.78,.969],[6565.11,.971],[6565.45,.967],[6565.78,.965],[6566.12,.959],[6566.45,.952],[6566.79,.963],[6567.12,.956],[6567.46,.961],[6567.79,.946],[6568.13,.95],[6568.46,.942],[6568.79,.923],[6569.13,.954],[6569.46,.946],[6569.8,.95],[6570.13,.961],[6570.47,.946],[6570.8,.954],[6571.14,.946],[6571.47,.927],[6571.81,.95],[6572.14,.939],[6572.47,.908],[6572.81,.935],[6573.14,.95],[6573.48,.927],[6573.81,.935],[6574.15,.927],[6574.48,.904],[6574.7,.885],[6575.04,.916],[6575.38,.942],[6575.71,.961],[6576.05,.965],[6576.38,.969],[6576.71,.98],[6577.05,.984],[6577.38,.995],[6577.71,.999],[6578.05,1.003],[6578.38,1.011],[6578.72,.995]];

const S_HD200560 = [[6549.17,.925],[6549.5,.987],[6549.85,1.0],[6550.3,.994],[6550.7,.987],[6551.1,.975],[6551.6,.98],[6552.07,.95],[6552.4,.975],[6552.9,.962],[6553.3,.975],[6553.7,.965],[6554.05,.95],[6554.41,.836],[6554.75,.95],[6555.2,.937],[6555.6,.95],[6555.9,.92],[6556.19,.83],[6556.5,.937],[6556.9,.962],[6557.3,.956],[6557.8,.969],[6558.2,.956],[6558.6,.962],[6559.0,.95],[6559.5,.95],[6559.9,.937],[6560.54,.925],[6561.0,.912],[6561.4,.893],[6561.77,.862],[6562.1,.786],[6562.44,.635],[6562.66,.484],[6562.99,.346],[6563.33,.484],[6563.67,.66],[6564.0,.81],[6564.33,.862],[6564.67,.887],[6565.0,.93],[6565.34,.937],[6565.7,.913],[6566.12,.962],[6566.6,.975],[6567.1,.975],[6567.57,.981],[6568.0,.987],[6568.5,.975],[6569.0,.95],[6569.35,.723],[6569.7,.95],[6570.1,.975],[6570.6,.987],[6571.02,.994],[6571.4,.975],[6571.9,.987],[6572.5,.962],[6572.92,.736],[6573.3,.962],[6573.7,.994],[6574.1,.95],[6574.48,.85],[6574.75,.87],[6575.04,.71],[6575.35,.925],[6575.8,.987],[6576.3,.994],[6576.9,1.0],[6577.4,1.006],[6578.0,1.0],[6578.5,1.006],[6578.85,1.0]];

const S_HD208472 = [[6549.17,.99],[6549.5,1.0],[6549.9,1.004],[6550.2,.99],[6550.6,1.0],[6551.0,.985],[6551.3,.96],[6551.62,.933],[6552.0,.96],[6552.3,.93],[6552.63,.914],[6552.95,.97],[6553.3,.99],[6553.7,.975],[6554.1,.92],[6554.52,.89],[6554.85,.905],[6555.2,.95],[6555.6,.96],[6555.9,.92],[6556.31,.871],[6556.6,.92],[6557.0,.95],[6557.4,.94],[6557.8,.977],[6558.2,.98],[6558.6,.945],[6559.0,.97],[6559.4,.975],[6559.8,.95],[6560.1,.918],[6560.4,.95],[6560.8,.96],[6561.1,.95],[6561.44,.914],[6561.77,.859],[6562.1,.788],[6562.44,.686],[6562.77,.616],[6563.11,.596],[6563.33,.624],[6563.67,.725],[6564.0,.82],[6564.33,.882],[6564.67,.93],[6565.0,.945],[6565.3,.953],[6565.67,.969],[6566.1,.984],[6566.6,.988],[6567.23,.992],[6567.7,.996],[6568.2,.988],[6568.6,.973],[6569.0,.95],[6569.35,.847],[6569.7,.92],[6570.1,.961],[6570.6,.969],[6571.0,.98],[6571.4,.969],[6571.9,.961],[6572.3,.92],[6572.81,.827],[6573.1,.88],[6573.48,.984],[6573.8,.961],[6574.1,.92],[6574.37,.87],[6574.6,.87],[6574.93,.775],[6575.2,.88],[6575.6,.961],[6576.0,.992],[6576.5,.996],[6577.0,.988],[6577.5,.992],[6578.0,1.0],[6578.4,.996],[6578.85,1.0]];

const S_HD214683 = [[6549.17,1.0],[6549.6,1.006],[6550.0,1.0],[6550.4,.987],[6550.8,.975],[6551.2,.95],[6551.62,.853],[6552.0,.96],[6552.4,.987],[6552.9,.96],[6553.3,.94],[6553.85,.872],[6554.2,.96],[6554.6,.975],[6555.0,.94],[6555.64,.82],[6556.0,.94],[6556.4,.975],[6556.9,.987],[6557.3,.975],[6557.8,.987],[6558.2,.98],[6558.6,.968],[6559.0,.96],[6559.4,.968],[6559.87,.949],[6560.3,.945],[6560.8,.936],[6561.21,.923],[6561.55,.834],[6561.88,.706],[6562.22,.54],[6562.44,.40],[6562.66,.349],[6562.88,.438],[6563.22,.617],[6563.55,.783],[6563.89,.898],[6564.33,.923],[6564.8,.93],[6565.23,.949],[6565.7,.96],[6566.1,.975],[6566.56,.981],[6567.0,.981],[6567.4,.975],[6567.9,.981],[6568.3,.96],[6568.8,.783],[6569.1,.96],[6569.5,.975],[6570.0,.968],[6570.47,.987],[6570.9,1.0],[6571.3,.962],[6571.7,.94],[6572.14,.745],[6572.5,.936],[6572.8,.987],[6573.1,.90],[6573.37,.745],[6573.7,.94],[6574.1,.987],[6574.48,.783],[6574.8,.96],[6575.2,1.0],[6575.7,.994],[6576.1,1.0],[6576.6,1.006],[6577.1,1.0],[6577.6,1.006],[6578.2,1.0],[6578.85,1.0]];

const S_HD217352 = [[6549.17,.922],[6549.35,.962],[6549.54,.988],[6549.81,.991],[6550.09,.986],[6550.45,.986],[6550.73,.974],[6551.0,.962],[6551.28,.951],[6551.6,.939],[6551.92,.933],[6552.29,.945],[6552.66,.951],[6552.84,.957],[6553.02,.916],[6553.21,.881],[6553.39,.928],[6553.57,.951],[6553.76,.939],[6553.94,.916],[6554.12,.899],[6554.4,.887],[6554.67,.899],[6555.04,.907],[6555.32,.904],[6555.59,.887],[6555.96,.867],[6556.33,.874],[6556.65,.91],[6556.97,.939],[6557.2,.957],[6557.34,.939],[6557.56,.91],[6557.7,.904],[6557.89,.928],[6558.07,.939],[6558.25,.928],[6558.48,.933],[6558.71,.928],[6558.99,.945],[6559.17,.939],[6559.4,.928],[6559.63,.928],[6559.86,.922],[6560.09,.916],[6560.36,.928],[6560.55,.916],[6560.82,.91],[6561.0,.904],[6561.23,.899],[6561.46,.858],[6561.69,.765],[6561.92,.672],[6562.15,.568],[6562.38,.499],[6562.61,.441],[6562.93,.40],[6563.11,.429],[6563.3,.51],[6563.57,.603],[6563.76,.661],[6563.99,.73],[6564.22,.765],[6564.45,.777],[6564.67,.80],[6564.9,.881],[6565.04,.907],[6565.23,.916],[6565.5,.928],[6565.82,.939],[6566.05,.945],[6566.33,.962],[6566.51,.98],[6566.74,.986],[6566.97,.98],[6567.24,.991],[6567.52,.997],[6567.89,.991],[6568.11,.986],[6568.34,.962],[6568.62,.928],[6568.89,.893],[6569.26,.864],[6569.54,.881],[6569.81,.916],[6570.09,.933],[6570.36,.939],[6570.64,.939],[6570.91,.933],[6571.19,.957],[6571.46,.974],[6571.65,.98],[6571.78,.975],[6572.01,.928],[6572.24,.881],[6572.47,.823],[6572.66,.864],[6572.93,.881],[6573.2,.899],[6573.48,.904],[6573.67,.916],[6573.85,.893],[6574.12,.858],[6574.4,.841],[6574.67,.823],[6574.99,.806],[6575.22,.783],[6575.45,.841],[6575.68,.904],[6575.91,.957],[6576.14,.962],[6576.6,.974],[6577.15,.988],[6577.89,.999],[6578.62,.991]];

const S_HD218153 = [[6549.17,.958],[6549.31,.912],[6549.45,.949],[6549.54,.967],[6549.63,.954],[6549.77,.884],[6549.95,.851],[6550.09,.902],[6550.23,.94],[6550.41,.944],[6550.59,.949],[6550.78,.972],[6550.96,.963],[6551.1,.94],[6551.28,.893],[6551.42,.782],[6551.56,.893],[6551.74,.921],[6551.92,.912],[6552.11,.935],[6552.29,.954],[6552.47,.967],[6552.66,.954],[6552.84,.944],[6553.02,.954],[6553.21,.94],[6553.39,.93],[6553.57,.898],[6553.76,.856],[6553.94,.782],[6554.08,.768],[6554.22,.809],[6554.35,.865],[6554.49,.856],[6554.67,.916],[6554.81,.875],[6554.95,.865],[6555.13,.851],[6555.27,.837],[6555.45,.823],[6555.64,.828],[6555.82,.833],[6556.0,.837],[6556.19,.847],[6556.37,.865],[6556.56,.875],[6556.74,.879],[6556.92,.875],[6557.11,.888],[6557.29,.865],[6557.47,.861],[6557.66,.851],[6557.84,.842],[6558.02,.828],[6558.21,.809],[6558.39,.791],[6558.57,.819],[6558.76,.828],[6558.94,.809],[6559.12,.782],[6559.31,.744],[6559.49,.768],[6559.67,.763],[6559.86,.758],[6560.04,.763],[6560.22,.754],[6560.41,.735],[6560.59,.717],[6560.78,.693],[6560.96,.689],[6561.14,.661],[6561.33,.633],[6561.51,.605],[6561.69,.577],[6561.88,.549],[6562.06,.531],[6562.24,.514],[6562.43,.54],[6562.61,.582],[6562.79,.614],[6562.98,.633],[6563.16,.67],[6563.34,.679],[6563.53,.698],[6563.71,.717],[6563.89,.754],[6564.08,.809],[6564.22,.842],[6564.4,.856],[6564.58,.865],[6564.77,.875],[6564.95,.865],[6565.13,.809],[6565.27,.856],[6565.41,.875],[6565.59,.902],[6565.78,.912],[6565.96,.926],[6566.14,.94],[6566.28,.967],[6566.42,.935],[6566.56,.949],[6566.69,.958],[6566.88,.977],[6567.06,.954],[6567.24,.967],[6567.38,.986],[6567.52,.94],[6567.66,.967],[6567.79,.977],[6567.98,.958],[6568.11,.949],[6568.3,.926],[6568.48,.902],[6568.67,.875],[6568.85,.856],[6569.03,.851],[6569.22,.865],[6569.4,.902],[6569.58,.93],[6569.77,.921],[6569.95,.912],[6570.13,.907],[6570.32,.916],[6570.5,.93],[6570.68,.949],[6570.87,.967],[6571.05,.977],[6571.23,.986],[6571.42,.991],[6571.6,.958],[6571.78,.921],[6571.97,.884],[6572.15,.837],[6572.33,.842],[6572.52,.847],[6572.7,.87],[6572.89,.879],[6573.07,.865],[6573.25,.875],[6573.44,.893],[6573.62,.87],[6573.8,.861],[6573.99,.847],[6574.17,.833],[6574.35,.814],[6574.54,.805],[6574.72,.828],[6574.86,.856],[6575.04,.902],[6575.18,.93],[6575.36,.949],[6575.55,.935],[6575.68,.902],[6575.82,.837],[6575.96,.916],[6576.1,.949],[6576.28,.958],[6576.46,.986],[6576.65,.981],[6576.83,.972],[6577.01,.977],[6577.2,.967],[6577.38,.986],[6577.56,.977],[6577.75,.991],[6577.93,.977],[6578.11,.995],[6578.3,.981],[6578.48,1.005],[6578.85,.99]];

const S_HD218738 = [[6549.17,.928],[6549.31,.964],[6549.54,.978],[6549.86,.98],[6550.32,.98],[6550.78,.982],[6551.23,.98],[6551.56,.981],[6551.92,.978],[6552.29,.971],[6552.61,.964],[6552.84,.95],[6553.21,.913],[6553.53,.964],[6553.76,.971],[6553.99,.95],[6554.22,.92],[6554.45,.935],[6554.67,.942],[6554.9,.95],[6555.13,.935],[6555.36,.906],[6555.59,.885],[6555.82,.855],[6556.14,.906],[6556.33,.928],[6556.51,.92],[6556.69,.924],[6556.88,.906],[6557.06,.899],[6557.24,.913],[6557.43,.892],[6557.61,.899],[6557.79,.899],[6557.98,.892],[6558.16,.877],[6558.34,.863],[6558.53,.855],[6558.71,.834],[6558.89,.855],[6559.08,.841],[6559.26,.82],[6559.45,.798],[6559.63,.783],[6559.81,.79],[6560.0,.783],[6560.18,.769],[6560.36,.761],[6560.55,.747],[6560.73,.718],[6560.91,.689],[6561.1,.66],[6561.28,.62],[6561.46,.56],[6561.65,.50],[6561.83,.44],[6562.01,.38],[6562.2,.33],[6562.38,.29],[6562.56,.277],[6562.75,.29],[6562.93,.34],[6563.11,.42],[6563.3,.51],[6563.48,.60],[6563.67,.68],[6563.85,.73],[6564.08,.74],[6564.31,.745],[6564.54,.78],[6564.77,.805],[6564.99,.82],[6565.22,.83],[6565.45,.84],[6565.68,.85],[6565.91,.86],[6566.14,.87],[6566.37,.875],[6566.6,.88],[6566.83,.89],[6567.06,.9],[6567.29,.905],[6567.52,.91],[6567.75,.915],[6567.98,.92],[6568.21,.925],[6568.44,.93],[6568.67,.93],[6568.89,.90],[6569.12,.80],[6569.35,.775],[6569.44,.81],[6569.63,.90],[6569.81,.935],[6570.04,.94],[6570.27,.94],[6570.5,.935],[6570.73,.945],[6570.96,.955],[6571.19,.95],[6571.42,.94],[6571.65,.93],[6571.83,.91],[6572.01,.895],[6572.2,.885],[6572.43,.89],[6572.56,.925],[6572.79,.955],[6573.02,.965],[6573.25,.955],[6573.48,.94],[6573.71,.925],[6573.94,.915],[6574.17,.935],[6574.4,.95],[6574.63,.935],[6574.86,.89],[6575.04,.82],[6575.22,.77],[6575.36,.86],[6575.55,.94],[6575.78,.97],[6576.23,.972],[6576.69,.975],[6577.15,.978],[6577.61,.984],[6578.07,.985],[6578.53,.99],[6578.9,.986]];

const SPECTRA = [
  S_HD116956, S_HD118234, S_BHVir, S_HD123351, S_HIP69410,
  S_HD125874, S_HD127068, S_HD128311, S_HD131977, S_HD137778,
  S_HD138157, S_HD140637, S_HD142680, S_HD143937, S_HD145230,
  S_HD147866, S_HD152178, S_HD153557, S_HD163621, S_HD171488,
  S_HD178450, S_HD180642, S_HD183870, S_HD189733, S_HD192263,
  S_HIP101227, S_HD196795, S_HD198425, S_CGCyg, S_HD200560,
  S_HD208472, S_HD214683, S_HD217352, S_HD218153, S_HD218738,
];

// ─────────────────────────────────────────────
//  Page layout (frame positions in px)
// ─────────────────────────────────────────────
const COL_LEFT  = [14, 274, 533.5, 793, 1053];
const LAST_LEFT = [14, 270, 527, 792, 1053];   // bottom row sits a little off
const ROW_TOP   = [18, 270.5, 523, 775.5, 1028, 1280.5, 1533];
const FRAME_W = 216, FRAME_H = 191;
// same width on both sides (labels left, blank axis right) so titles centre on the frame
const SIDE = 44, PAD_T = 20, PAD_B = 24;

const FONT = "'Liberation Mono', 'Courier New', monospace";
const INK = "#111";

// ".8" style labels, like the original plotting package
const fmtY = (v) => {
  const s = String(Number(v.toFixed(3)));
  return s.replace(/^0\./, ".");
};

function yMajors(i) {
  const st = Y_STEP[i];
  const out = [];
  for (let k = Math.ceil(Y_MIN[i] / st - 1e-6); k * st <= Y_MAX[i] + 1e-9; k++) {
    out.push(Number((k * st).toFixed(4)));
  }
  return out;
}

// ── frame + inward tick marks on all four sides ──
const frameTicks = {
  id: "frameTicks",
  afterDatasetsDraw(chart, args, opts) {
    const i = opts.panel;
    const { ctx, chartArea: a, scales: { x, y } } = chart;
    ctx.save();
    ctx.strokeStyle = "#262626";
    ctx.lineWidth = 1.1;
    ctx.beginPath();
    for (let v = Math.ceil(X_RANGE[0]); v <= X_RANGE[1]; v++) {
      const px = Math.round(x.getPixelForValue(v)) + 0.5;
      const len = v % 5 === 0 ? 9 : 5;
      ctx.moveTo(px, a.top);    ctx.lineTo(px, a.top + len);
      ctx.moveTo(px, a.bottom); ctx.lineTo(px, a.bottom - len);
    }
    const mn = Y_MINOR[i], mj = Y_STEP[i];
    for (let k = Math.ceil(Y_MIN[i] / mn - 1e-6); k * mn <= Y_MAX[i] + 1e-9; k++) {
      const v = k * mn;
      const r = v / mj;
      const isMajor = Math.abs(r - Math.round(r)) < 1e-6;
      const py = Math.round(y.getPixelForValue(v)) + 0.5;
      const len = isMajor ? 7 : 3.5;
      ctx.moveTo(a.left, py);  ctx.lineTo(a.left + len, py);
      ctx.moveTo(a.right, py); ctx.lineTo(a.right - len, py);
    }
    ctx.stroke();
    ctx.lineWidth = 1.4;
    ctx.strokeRect(a.left, a.top, a.right - a.left, a.bottom - a.top);
    ctx.restore();
  },
};

// ─────────────────────────────────────────────
//  Build the 35 panels
// ─────────────────────────────────────────────
const page = document.getElementById("page");

STARS.forEach((name, i) => {
  const row = Math.floor(i / 5), col = i % 5;
  const fl = (row === 6 ? LAST_LEFT : COL_LEFT)[col];
  const ft = ROW_TOP[row];
  const w = SIDE + FRAME_W + SIDE, h = PAD_T + FRAME_H + PAD_B;

  const box = document.createElement("div");
  box.className = "cell";
  box.style.left = (fl - SIDE) + "px";
  box.style.top = (ft - PAD_T) + "px";
  box.style.width = w + "px";
  box.style.height = h + "px";
  const cv = document.createElement("canvas");
  cv.width = w; cv.height = h;
  cv.style.width = w + "px"; cv.style.height = h + "px";
  box.appendChild(cv);
  page.appendChild(box);

  const tickFont = { family: FONT, size: 10.5, lineHeight: 1.2 };

  new Chart(cv, {
    type: "line",
    data: {
      datasets: [{
        data: SPECTRA[i].map(([x, y]) => ({ x, y })),
        borderColor: INK,
        borderWidth: 1,
        pointRadius: 0,
        tension: 0,
        fill: false,
      }],
    },
    options: {
      responsive: false,
      animation: false,
      devicePixelRatio: 1,
      events: [],
      layout: { padding: 0 },
      plugins: {
        legend: { display: false },
        tooltip: { enabled: false },
        title: {
          display: true,
          text: name,
          color: INK,
          font: { family: FONT, size: 11.5, weight: "normal", lineHeight: 1.2 },
          padding: { top: 1, bottom: PAD_T - 1 - 13.8 },
        },
        frameTicks: { panel: i },
      },
      scales: {
        x: {
          type: "linear",
          min: X_RANGE[0],
          max: X_RANGE[1],
          grid: { display: false, drawTicks: false },
          border: { display: false },
          afterBuildTicks: (s) => { s.ticks = X_TICKS.map((v) => ({ value: v })); },
          afterFit: (s) => { s.height = PAD_B; },
          ticks: {
            font: tickFont, color: INK, padding: 5.5,
            maxRotation: 0, autoSkip: false,
            callback: (v) => String(Math.round(v)),
          },
        },
        y: {
          type: "linear",
          position: "left",
          min: Y_MIN[i],
          max: Y_MAX[i],
          grid: { display: false, drawTicks: false },
          border: { display: false },
          afterBuildTicks: (s) => { s.ticks = yMajors(i).map((v) => ({ value: v })); },
          afterFit: (s) => { s.width = SIDE; },
          ticks: {
            font: tickFont, color: INK, padding: 6,
            autoSkip: false,
            callback: (v) => fmtY(v),
          },
        },
        // unlabeled right axis: only reserves the same width as the left one
        yRight: {
          type: "linear",
          position: "right",
          min: Y_MIN[i],
          max: Y_MAX[i],
          grid: { display: false, drawTicks: false },
          border: { display: false },
          afterFit: (s) => { s.width = SIDE; },
          ticks: { display: false },
        },
      },
    },
    plugins: [frameTicks],
  });
});
</script>
</body>
</html>
